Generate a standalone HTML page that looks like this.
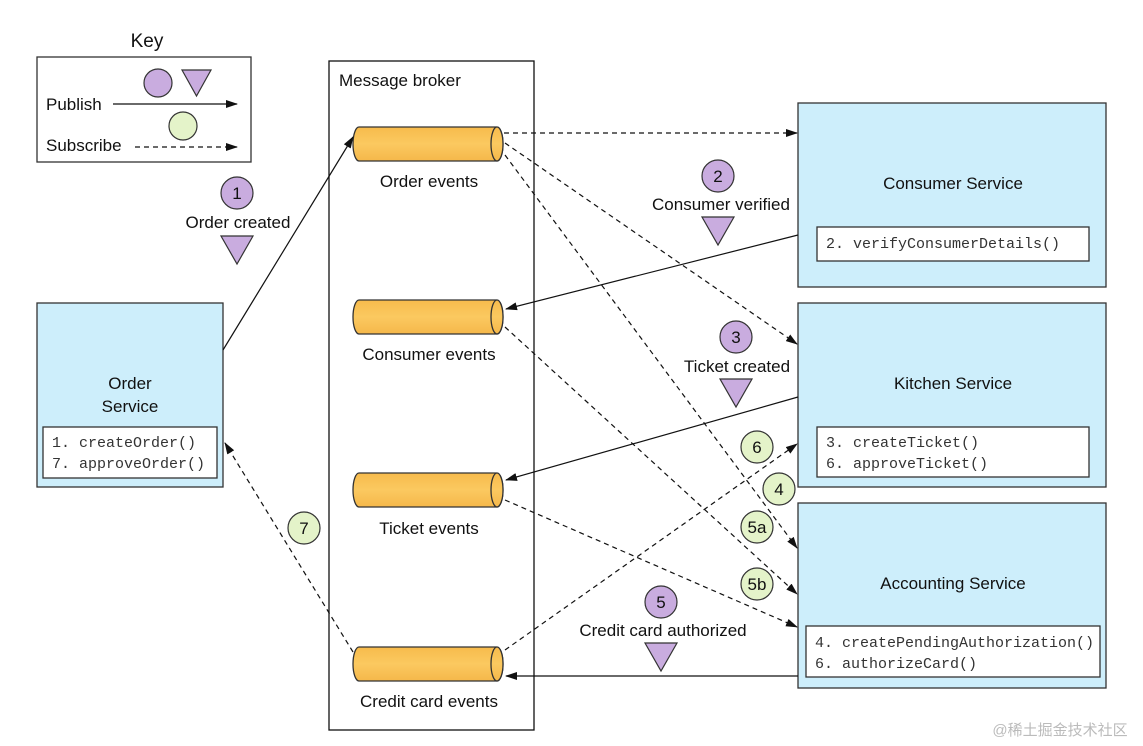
<!DOCTYPE html>
<html><head><meta charset="utf-8"><style>
html,body{margin:0;padding:0;background:#fff;}
svg{display:block;font-family:"Liberation Sans",Arial,sans-serif;}
.m{font-family:"Liberation Mono",monospace;font-size:15px;fill:#333;}
</style></head><body>
<svg width="1143" height="746" viewBox="0 0 1143 746" xmlns="http://www.w3.org/2000/svg">
<defs>
<marker id="a" markerWidth="12" markerHeight="8" refX="11" refY="4" orient="auto" markerUnits="userSpaceOnUse"><path d="M0,0 L12,4 L0,8 Z" fill="#111"/></marker>
<linearGradient id="cy" x1="0" y1="0" x2="0" y2="1"><stop offset="0" stop-color="#f7bb4c"/><stop offset="0.5" stop-color="#fbc960"/><stop offset="1" stop-color="#f5b84a"/></linearGradient>
</defs>
<!-- Key -->
<text x="147" y="47" font-size="19" text-anchor="middle" fill="#111">Key</text>
<rect x="37" y="57" width="214" height="105" fill="#fff" stroke="#333" stroke-width="1.3"/>
<circle cx="158" cy="83" r="14" fill="#c9acdf" stroke="#333" stroke-width="1.2"/>
<path d="M182,70 L211,70 L196.5,96 Z" fill="#c9acdf" stroke="#333" stroke-width="1.2"/>
<text x="46" y="110" font-size="17" fill="#111">Publish</text>
<line x1="113" y1="104" x2="237" y2="104" stroke="#111" stroke-width="1.2" marker-end="url(#a)"/>
<circle cx="183" cy="126" r="14" fill="#e4f3c9" stroke="#333" stroke-width="1.2"/>
<text x="46" y="151" font-size="17" fill="#111">Subscribe</text>
<line x1="135" y1="147" x2="237" y2="147" stroke="#111" stroke-width="1.2" stroke-dasharray="5,4" marker-end="url(#a)"/>

<!-- Broker -->
<rect x="329" y="61" width="205" height="669" fill="#fff" stroke="#111" stroke-width="1.3"/>
<text x="339" y="86" font-size="17" fill="#111">Message broker</text>

<!-- Services -->
<g stroke="#333" stroke-width="1.3">
<rect x="37" y="303" width="186" height="184" fill="#cdeefb"/>
<rect x="798" y="103" width="308" height="184" fill="#cdeefb"/>
<rect x="798" y="303" width="308" height="184" fill="#cdeefb"/>
<rect x="798" y="503" width="308" height="185" fill="#cdeefb"/>
<rect x="43" y="427" width="174" height="51" fill="#fff"/>
<rect x="817" y="227" width="272" height="34" fill="#fff"/>
<rect x="817" y="427" width="272" height="50" fill="#fff"/>
<rect x="806" y="626" width="294" height="51" fill="#fff"/>
</g>
<g font-size="17" fill="#111" text-anchor="middle">
<text x="130" y="389">Order</text>
<text x="130" y="412">Service</text>
<text x="953" y="189">Consumer Service</text>
<text x="953" y="389">Kitchen Service</text>
<text x="953" y="589">Accounting Service</text>
</g>
<text class="m" x="52" y="447">1. createOrder()</text>
<text class="m" x="52" y="468">7. approveOrder()</text>
<text class="m" x="826" y="248">2. verifyConsumerDetails()</text>
<text class="m" x="826" y="447">3. createTicket()</text>
<text class="m" x="826" y="468">6. approveTicket()</text>
<text class="m" x="815" y="647">4. createPendingAuthorization()</text>
<text class="m" x="815" y="668">6. authorizeCard()</text>

<!-- Cylinders -->
<g stroke="#333" stroke-width="1.3" fill="url(#cy)">
<path d="M359,127 L497,127 A6,17 0 0 1 497,161 L359,161 A6,17 0 0 1 359,127 Z"/>
<ellipse cx="497" cy="144" rx="6" ry="17"/>
<path d="M359,300 L497,300 A6,17 0 0 1 497,334 L359,334 A6,17 0 0 1 359,300 Z"/>
<ellipse cx="497" cy="317" rx="6" ry="17"/>
<path d="M359,473 L497,473 A6,17 0 0 1 497,507 L359,507 A6,17 0 0 1 359,473 Z"/>
<ellipse cx="497" cy="490" rx="6" ry="17"/>
<path d="M359,647 L497,647 A6,17 0 0 1 497,681 L359,681 A6,17 0 0 1 359,647 Z"/>
<ellipse cx="497" cy="664" rx="6" ry="17"/>
</g>
<g font-size="17" fill="#111" text-anchor="middle">
<text x="429" y="187">Order events</text>
<text x="429" y="360">Consumer events</text>
<text x="429" y="534">Ticket events</text>
<text x="429" y="707">Credit card events</text>
</g>

<!-- Connectors -->
<g stroke="#111" stroke-width="1.2" fill="none">
<line x1="223" y1="350" x2="353" y2="137" marker-end="url(#a)"/>
<line x1="798" y1="235" x2="506" y2="309" marker-end="url(#a)"/>
<line x1="798" y1="397" x2="506" y2="480" marker-end="url(#a)"/>
<line x1="798" y1="676" x2="506" y2="676" marker-end="url(#a)"/>
</g>
<g stroke="#111" stroke-width="1.2" fill="none" stroke-dasharray="5,4">
<line x1="504" y1="133" x2="797" y2="133" marker-end="url(#a)"/>
<line x1="505" y1="143" x2="797" y2="344" marker-end="url(#a)"/>
<line x1="505" y1="155" x2="797" y2="548" marker-end="url(#a)"/>
<line x1="505" y1="327" x2="797" y2="594" marker-end="url(#a)"/>
<line x1="505" y1="500" x2="797" y2="627" marker-end="url(#a)"/>
<line x1="505" y1="650" x2="797" y2="444" marker-end="url(#a)"/>
<line x1="353" y1="652" x2="225" y2="443" marker-end="url(#a)"/>
</g>

<!-- Purple labels -->
<g stroke="#333" stroke-width="1.2" fill="#c9acdf">
<circle cx="237" cy="193" r="16"/>
<path d="M221,236 L253,236 L237,264 Z"/>
<circle cx="718" cy="176" r="16"/>
<path d="M702,217 L734,217 L718,245 Z"/>
<circle cx="736" cy="337" r="16"/>
<path d="M720,379 L752,379 L736,407 Z"/>
<circle cx="661" cy="602" r="16"/>
<path d="M645,643 L677,643 L661,671 Z"/>
</g>
<g font-size="17" fill="#111" text-anchor="middle">
<text x="237" y="199">1</text>
<text x="238" y="228">Order created</text>
<text x="718" y="182">2</text>
<text x="721" y="210">Consumer verified</text>
<text x="736" y="343">3</text>
<text x="737" y="372">Ticket created</text>
<text x="661" y="608">5</text>
<text x="663" y="636">Credit card authorized</text>
</g>
<!-- Green labels -->
<g stroke="#333" stroke-width="1.2" fill="#e4f3c9">
<circle cx="757" cy="447" r="16"/>
<circle cx="779" cy="489" r="16"/>
<circle cx="757" cy="527" r="16"/>
<circle cx="757" cy="584" r="16"/>
<circle cx="304" cy="528" r="16"/>
</g>
<g font-size="17" fill="#111" text-anchor="middle">
<text x="757" y="453">6</text>
<text x="779" y="495">4</text>
<text x="757" y="533">5a</text>
<text x="757" y="590">5b</text>
<text x="304" y="534">7</text>
</g>
<text x="1060" y="735" font-size="15" fill="#bbb" text-anchor="middle" font-family="'Liberation Sans','Noto Sans CJK SC',sans-serif">@稀土掘金技术社区</text>
</svg>
</body></html>
